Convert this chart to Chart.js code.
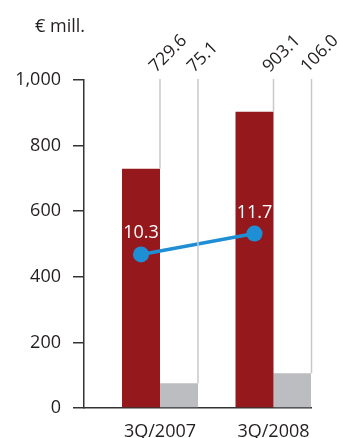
<!DOCTYPE html>
<html lang="en">
<head>
  <meta charset="UTF-8">
  <title>Sales and margin</title>
  <style>
    body { margin: 0; background: #fff; }
    #wrap { width: 339px; height: 438px; }
  </style>
</head>
<body>
  <div id="wrap"><canvas id="chart" width="339" height="438"></canvas></div>

  <script src="https://cdn.jsdelivr.net/npm/chart.js"></script>
  <script>
    const categories = ['3Q/2007', '3Q/2008'];
    const revenue = [729.6, 903.1];
    const ebitda = [75.1, 106.0];
    const margin = [10.3, 11.7];
    const yTicks = [0, 200, 400, 600, 800, 1000];

    const FONT = "'Open Sans', sans-serif";
    const INK = '#231f20';
    const catPct = 0.6696;

    // categories sit at x = 1, 2 on a linear scale so the groups can hug the right edge
    const xs = categories.map((c, i) => i + 1);

    const barLabels = {
      id: 'barLabels',
      afterDatasetsDraw(chart) {
        const { ctx, scales } = chart;
        const top = scales.y.getPixelForValue(1000) - 1;
        ctx.save();
        // leader lines and rotated values above each bar
        [0, 1].forEach(di => {
          const meta = chart.getDatasetMeta(di);
          meta.data.forEach((bar, i) => {
            const x = bar.x + bar.width / 2;
            ctx.strokeStyle = '#c8c8c8';
            ctx.lineWidth = 1.5;
            ctx.beginPath();
            ctx.moveTo(x, bar.y);
            ctx.lineTo(x, top);
            ctx.stroke();
            const v = chart.data.datasets[di].data[i].y;
            ctx.save();
            ctx.translate(x - 4, top - 6);
            ctx.rotate(-Math.PI / 4);
            ctx.fillStyle = INK;
            ctx.font = '17.5px ' + FONT;
            ctx.textAlign = 'left';
            ctx.textBaseline = 'alphabetic';
            ctx.fillText(v.toFixed(1), 0, 0);
            ctx.restore();
          });
        });
        // margin values above the line points
        const lm = chart.getDatasetMeta(2);
        lm.data.forEach((pt, i) => {
          ctx.fillStyle = '#fff';
          ctx.font = '18px ' + FONT;
          ctx.textAlign = 'center';
          ctx.textBaseline = 'alphabetic';
          ctx.fillText(margin[i].toFixed(1), pt.x, pt.y - 16);
        });
        // unit caption
        ctx.fillStyle = INK;
        ctx.font = '18px ' + FONT;
        ctx.textAlign = 'left';
        ctx.fillText('€ mill.', 35, 32);
        ctx.restore();
      }
    };

    new Chart(document.getElementById('chart'), {
      type: 'bar',
      data: {
        datasets: [
          {
            label: 'Revenue',
            data: xs.map((x, i) => ({ x, y: revenue[i] })),
            backgroundColor: '#95191c',
            categoryPercentage: catPct,
            barPercentage: 1,
            order: 2
          },
          {
            label: 'EBITDA',
            data: xs.map((x, i) => ({ x, y: ebitda[i] })),
            backgroundColor: '#bcbdc0',
            categoryPercentage: catPct,
            barPercentage: 1,
            order: 2
          },
          {
            type: 'line',
            label: 'Margin %',
            yAxisID: 'y2',
            // points centred on the red bar of each group
            data: xs.map((x, i) => ({ x: x - catPct / 4, y: margin[i] })),
            borderColor: '#1f8fd5',
            backgroundColor: '#1f8fd5',
            pointBackgroundColor: '#1f8fd5',
            borderWidth: 3.5,
            pointRadius: 8,
            pointBorderWidth: 0,
            order: 1
          }
        ]
      },
      options: {
        responsive: false,
        animation: false,
        layout: { padding: { top: 80, right: 28, left: 0, bottom: 0 } },
        plugins: { legend: { display: false }, tooltip: { enabled: false } },
        scales: {
          x: {
            type: 'linear',
            offset: false,
            min: 1 - catPct,
            max: 3 - catPct,
            afterBuildTicks: s => { s.ticks = xs.map(v => ({ value: v })); },
            afterFit: s => { s.height = 30; },
            ticks: {
              callback: v => categories[v - 1],
              color: INK,
              font: { family: FONT, size: 18 },
              padding: 13,
              maxRotation: 0
            },
            grid: { display: false, drawTicks: false },
            border: { display: true, color: '#333', width: 1.5 }
          },
          y: {
            min: 0,
            max: 1000,
            afterBuildTicks: s => { s.ticks = yTicks.map(v => ({ value: v })); },
            afterFit: s => { s.width = 84; },
            ticks: {
              callback: v => v.toLocaleString('en-US'),
              color: INK,
              font: { family: FONT, size: 18 },
              padding: 12
            },
            grid: { drawOnChartArea: false, drawTicks: true, tickLength: 11, color: '#333', lineWidth: 1.5 },
            border: { display: true, color: '#333', width: 1.5 }
          },
          y2: { display: false, min: 0, max: 22 }
        }
      },
      plugins: [barLabels]
    });
  </script>
</body>
</html>
